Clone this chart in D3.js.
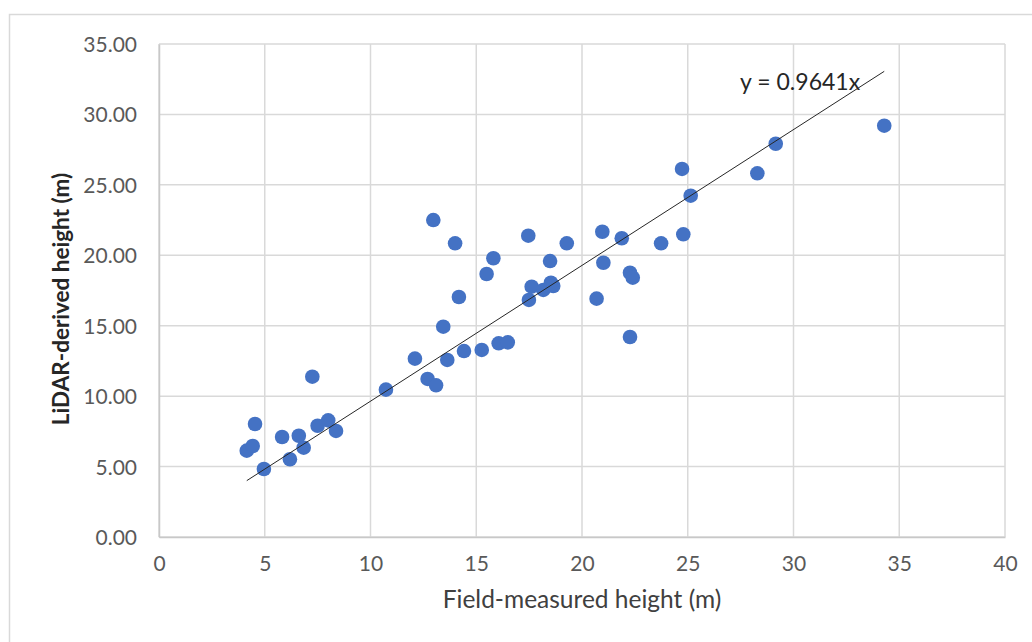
<!DOCTYPE html>
<html>
<head>
<meta charset="utf-8">
<script src="https://cdn.jsdelivr.net/npm/d3@7"></script>
<style>
  body { margin: 0; background: #fff; }
  text { font-family: Lato, "Open Sans", sans-serif; }
</style>
</head>
<body>
<div id="root"></div>
<script>
// field vs lidar tree heights (m)
var fieldHeight = [4.15, 4.43, 4.54, 4.96, 5.82, 6.19, 6.61, 6.84, 7.25, 7.50,
    8.00, 8.37, 10.73, 12.10, 12.70, 13.10, 12.97, 13.44, 13.63, 14.00,
    14.18, 14.42, 15.26, 15.49, 15.81, 16.06, 16.49, 17.46, 17.49, 17.62,
    18.17, 18.49, 18.53, 18.64, 19.28, 20.69, 20.96, 21.01, 21.88, 22.27,
    22.40, 22.27, 23.74, 24.73, 24.79, 25.14, 28.29, 29.16, 34.29];
var lidarHeight = [6.13, 6.46, 8.02, 4.83, 7.10, 5.52, 7.19, 6.34, 11.38, 7.90,
    8.28, 7.53, 10.46, 12.66, 11.22, 10.77, 22.50, 14.93, 12.57, 20.85,
    17.04, 13.20, 13.28, 18.67, 19.79, 13.75, 13.82, 21.39, 16.83, 17.77,
    17.54, 19.59, 18.05, 17.82, 20.85, 16.92, 21.67, 19.47, 21.21, 18.76,
    18.41, 14.20, 20.85, 26.13, 21.49, 24.23, 25.82, 27.92, 29.20];
var xTicks = [0, 5, 10, 15, 20, 25, 30, 35, 40];
var yTicks = [0, 5, 10, 15, 20, 25, 30, 35];
var slope = 0.9641;

var width = 1032, height = 642;
var plotLeft = 159, plotRight = 1005, plotTop = 44, plotBottom = 537;

var svg = d3.select("#root")
    .append("svg")
    .attr("width", width)
    .attr("height", height);

// chart frame (runs off the right/bottom of the picture)
svg.append("rect")
    .attr("x", 9.5).attr("y", 14.5)
    .attr("width", 1100).attr("height", 700)
    .attr("fill", "none")
    .attr("stroke", "#d9d9d9")
    .attr("stroke-width", 1.5);

var x = d3.scaleLinear().domain([0, 40]).range([plotLeft, plotRight]);
var y = d3.scaleLinear().domain([0, 35]).range([plotBottom, plotTop]);

// grid
svg.append("g").selectAll("line")
    .data(yTicks)
    .enter()
    .append("line")
    .attr("x1", plotLeft).attr("x2", plotRight)
    .attr("y1", function (d) { return y(d); })
    .attr("y2", function (d) { return y(d); })
    .attr("stroke", "#d9d9d9")
    .attr("stroke-width", 1.5);

svg.append("g").selectAll("line")
    .data(xTicks)
    .enter()
    .append("line")
    .attr("y1", plotTop).attr("y2", plotBottom)
    .attr("x1", function (d) { return x(d); })
    .attr("x2", function (d) { return x(d); })
    .attr("stroke", "#d9d9d9")
    .attr("stroke-width", 1.5);

// axes
var xAxis = svg.append("g")
    .attr("transform", "translate(0," + plotBottom + ")")
    .call(d3.axisBottom(x).tickValues(xTicks).tickSize(0).tickPadding(0));
var yAxis = svg.append("g")
    .attr("transform", "translate(" + plotLeft + ",0)")
    .call(d3.axisLeft(y).tickValues(yTicks).tickSize(0).tickPadding(0)
        .tickFormat(d3.format(".2f")));

[xAxis, yAxis].forEach(function (a) {
    a.select(".domain").attr("stroke", "#c8c8c8").attr("stroke-width", 1.5);
    a.selectAll("text").attr("fill", "#595959").attr("font-size", 21)
        .attr("font-family", "Lato, sans-serif");
});
xAxis.selectAll("text").attr("dy", null).attr("y", 34);
yAxis.selectAll("text").attr("x", -22).attr("dy", "0.36em");

// points
svg.append("g").selectAll("circle")
    .data(fieldHeight)
    .enter()
    .append("circle")
    .attr("cx", function (d) { return x(d); })
    .attr("cy", function (d, i) { return y(lidarHeight[i]); })
    .attr("r", 7.3)
    .attr("fill", "#4472c4");

// trendline through origin
var trend = [d3.min(fieldHeight), d3.max(fieldHeight)];
svg.append("path")
    .datum(trend)
    .attr("d", d3.line()
        .x(function (d) { return x(d); })
        .y(function (d) { return y(slope * d); }))
    .attr("fill", "none")
    .attr("stroke", "#262626")
    .attr("stroke-width", 1);

svg.append("text")
    .attr("x", x(33.15))
    .attr("y", y(31.7))
    .attr("text-anchor", "end")
    .attr("font-size", 23)
    .attr("fill", "#262626")
    .text("y = " + slope + "x");

// titles
svg.append("text")
    .attr("x", (plotLeft + plotRight) / 2)
    .attr("y", 608)
    .attr("text-anchor", "middle")
    .attr("font-size", 24.5)
    .attr("fill", "#404040")
    .text("Field-measured height (m)");

svg.append("text")
    .attr("transform", "translate(69,299) rotate(-90)")
    .attr("text-anchor", "middle")
    .attr("font-size", 22.5)
    .attr("font-weight", "bold")
    .attr("fill", "#262626")
    .text("LiDAR-derived height (m)");
</script>
</body>
</html>
